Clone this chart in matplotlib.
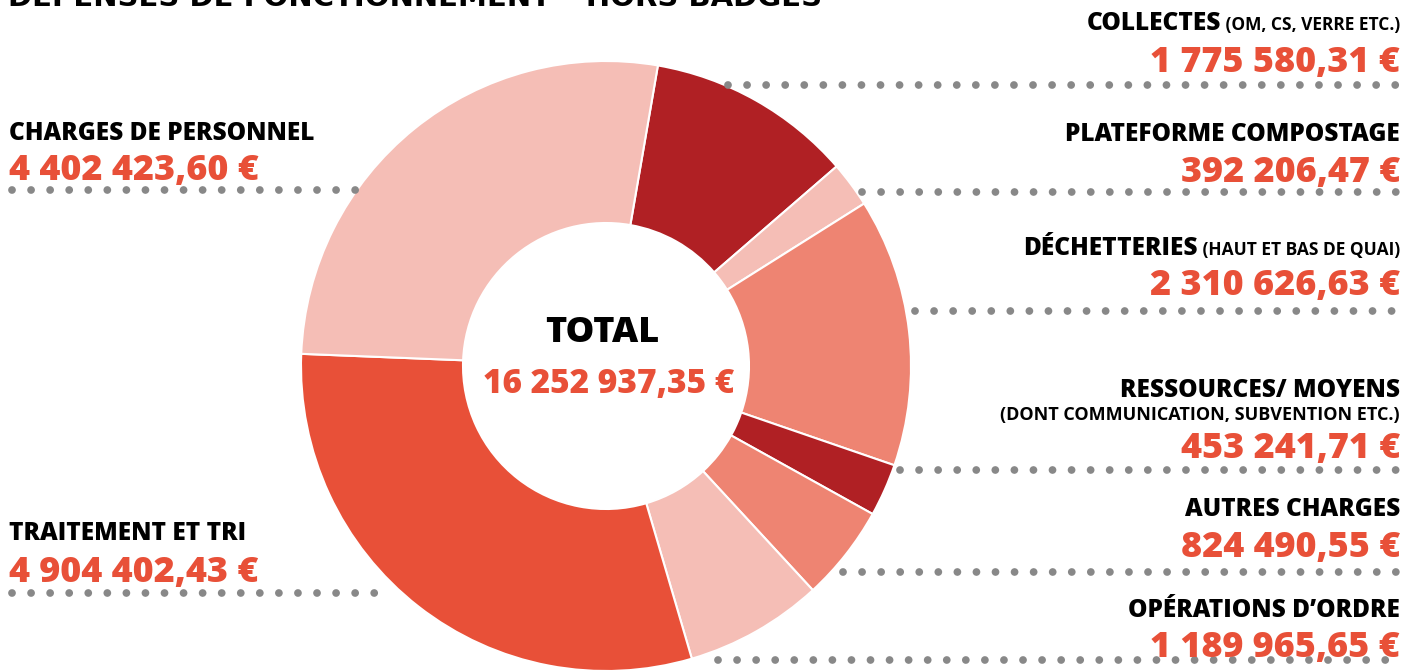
import matplotlib
matplotlib.use("Agg")
import matplotlib.pyplot as plt

# ---- data ----
categories = ["COLLECTES", "PLATEFORME COMPOSTAGE", "DÉCHETTERIES", "RESSOURCES/ MOYENS",
              "AUTRES CHARGES", "OPÉRATIONS D’ORDRE", "TRAITEMENT ET TRI", "CHARGES DE PERSONNEL"]
subtitles = ["(OM, CS, VERRE ETC.)", "", "(HAUT ET BAS DE QUAI)",
             "(DONT COMMUNICATION, SUBVENTION ETC.)", "", "", "", ""]
values = [1775580.31, 392206.47, 2310626.63, 453241.71, 824490.55, 1189965.65, 4904402.43, 4402423.60]
value_labels = ["1 775 580,31 €", "392 206,47 €", "2 310 626,63 €", "453 241,71 €",
                "824 490,55 €", "1 189 965,65 €", "4 904 402,43 €", "4 402 423,60 €"]
title = "DÉPENSES DE FONCTIONNEMENT – HORS BADGES"
total_label = "16 252 937,35 €"

# ---- style ----
DARK = "#B02024"
PINK = "#F5BEB6"
SALMON = "#EE8472"
ORANGE = "#E85038"
colors = [DARK, PINK, SALMON, DARK, SALMON, PINK, ORANGE, PINK]
NUM = "#E85038"
DOT = "#888888"
FONT = "Open Sans"
HEAVY = 800

W, H = 1414, 671
fig = plt.figure(figsize=(W / 100, H / 100), dpi=100)
ax = fig.add_axes([0, 0, 1, 1])

cx, cy = 606, H - 366
R, r = 305, 143
ax.pie(values, colors=colors, startangle=80.2, counterclock=False,
       center=(cx, cy), radius=R,
       wedgeprops=dict(width=R - r, edgecolor="white", linewidth=1.5))
ax.set_xlim(0, W)
ax.set_ylim(0, H)
ax.set_aspect("equal")
ax.axis("off")

# layout: (side, label baseline y, number baseline y, dot y, dot start/end x)
layout = [
    ("R", 30, 72, 85, 728),
    ("R", 141, 182, 192, 862),
    ("R", 255, 295, 311, 915),
    ("R", 397, 458, 470, 900),
    ("R", 516, 557, 572, 843),
    ("R", 617, 657, 660, 718),
    ("L", 540, 582, 593, 380),
    ("L", 140, 180, 190, 357),
]

def Y(p):
    return H - p

for i, (side, ly, ny, dy, dx) in enumerate(layout):
    if side == "R":
        xs = [dx, 1404]
        tx, ha = 1400, "right"
    else:
        xs = [12, dx]
        tx, ha = 9, "left"
    ax.plot(xs, [Y(dy), Y(dy)], color=DOT, lw=5.6, linestyle=(0, (0.001, 2.45)),
            dash_capstyle="round", solid_capstyle="round", zorder=3)
    sub = subtitles[i]
    if sub and i != 3:
        t = ax.text(tx, Y(ly), " " + sub, ha="right", va="baseline", fontsize=12.5,
                    fontweight="bold", family=FONT, color="black", zorder=4)
        fig.canvas.draw()
        bb = t.get_window_extent()
        ax.text(bb.x0, Y(ly), categories[i], ha="right", va="baseline", fontsize=17.6,
                fontweight=HEAVY, family=FONT, color="black", zorder=4)
    else:
        ax.text(tx, Y(ly), categories[i], ha=ha, va="baseline", fontsize=17.6,
                fontweight=HEAVY, family=FONT, color="black", zorder=4)
        if sub:
            ax.text(tx, Y(ly + 23), sub, ha=ha, va="baseline", fontsize=13,
                    fontweight="bold", family=FONT, color="black", zorder=4)
    ax.text(tx, Y(ny), value_labels[i], ha=ha, va="baseline", fontsize=25.8,
            fontweight=HEAVY, family=FONT, color=NUM, zorder=5)

ax.text(cx - 4, Y(342), "TOTAL", ha="center", va="baseline", fontsize=26,
        fontweight=HEAVY, family=FONT, color="black", zorder=4)
ax.text(cx + 3, Y(393), total_label, ha="center", va="baseline", fontsize=24,
        fontweight=HEAVY, family=FONT, color=NUM, zorder=4)

ax.text(8, Y(6), title, ha="left", va="baseline", fontsize=21, fontweight="bold",
        family="DejaVu Sans", color="black", zorder=4)

fig.savefig("out.png", dpi=100)
